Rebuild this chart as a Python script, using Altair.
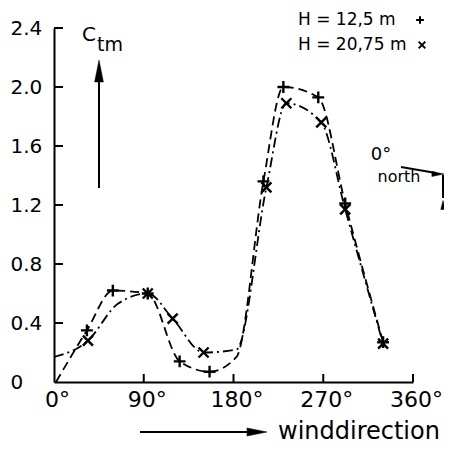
import altair as alt
import pandas as pd

# ---- data ----
deg_h1 = [2, 33, 59, 94, 126, 156, 183, 210, 230, 265, 292, 330]
val_h1 = [0.0, 0.35, 0.62, 0.60, 0.14, 0.07, 0.17, 1.36, 2.00, 1.93, 1.21, 0.27]
mrk_h1 = [False, True, True, True, True, True, False, True, True, True, True, True]

deg_h2 = [0, 34, 64, 94, 119, 150, 183, 213, 233, 268, 292, 330]
val_h2 = [0.17, 0.28, 0.53, 0.60, 0.43, 0.20, 0.22, 1.32, 1.89, 1.76, 1.17, 0.26]
mrk_h2 = [False, True, False, True, True, True, False, True, True, True, True, True]

x_ticks = [0, 90, 180, 270, 360]
y_ticks = [0, 0.4, 0.8, 1.2, 1.6, 2.0, 2.4]
legend_labels = ["H = 12,5 m", "H = 20,75 m"]

df1 = pd.DataFrame({"deg": deg_h1, "val": val_h1, "m": mrk_h1})
df2 = pd.DataFrame({"deg": deg_h2, "val": val_h2, "m": mrk_h2})

FONT = "DejaVu Sans"
W, H = 359, 354

xs = alt.Scale(domain=[0, 360], nice=False, zero=False)
ys = alt.Scale(domain=[0, 2.4], nice=False)

xaxis = alt.Axis(values=x_ticks, labelExpr="datum.value + '°'", ticks=False, grid=False,
                 domain=True, domainColor="black", domainWidth=2, labelFont=FONT, labelFontSize=22,
                 labelColor="black", labelPadding=7, labelOffset=3, labelFlush=False, title=None)
yaxis = alt.Axis(values=y_ticks,
                 labelExpr="datum.value == 0 ? '0' : format(datum.value, '.1f')",
                 ticks=False, grid=False, domain=True, domainColor="black", domainWidth=2,
                 labelFont=FONT, labelFontSize=20, labelColor="black", labelAlign="left",
                 labelPadding=44, title=None)

X = lambda f: alt.X(f, scale=xs, axis=xaxis)
Y = lambda f: alt.Y(f, scale=ys, axis=yaxis)

PLUS = "M-1,0L1,0M0,-1L0,1"
CROSS = "M-1,-1L1,1M-1,1L1,-1"

line1 = alt.Chart(df1).mark_line(interpolate="monotone", strokeDash=[9, 5], color="black",
                                 strokeWidth=1.8).encode(x=X("deg:Q"), y=Y("val:Q"))
line2 = alt.Chart(df2).mark_line(interpolate="monotone", strokeDash=[10, 4, 2, 4], color="black",
                                 strokeWidth=1.8).encode(x=X("deg:Q"), y=Y("val:Q"))

pts1 = alt.Chart(df1).transform_filter("datum.m").mark_point(
    shape=PLUS, size=140, stroke="black", strokeWidth=2.4, filled=False, opacity=1).encode(
    x=X("deg:Q"), y=Y("val:Q"))
pts2 = alt.Chart(df2).transform_filter("datum.m").mark_point(
    shape=CROSS, size=100, stroke="black", strokeWidth=2.4, filled=False, opacity=1).encode(
    x=X("deg:Q"), y=Y("val:Q"))

# inward ticks
yt = alt.Chart(pd.DataFrame({"val": y_ticks[1:]})).mark_rule(color="black", strokeWidth=2).encode(
    y=Y("val:Q"), x=alt.value(0), x2=alt.value(9))
xt = alt.Chart(pd.DataFrame({"deg": x_ticks[1:]})).mark_rule(color="black", strokeWidth=2).encode(
    x=X("deg:Q"), y=alt.value(H), y2=alt.value(H - 8))

one = pd.DataFrame({"a": [0]})

def txt(s, x, y, size, align="left"):
    return alt.Chart(one).mark_text(text=s, font=FONT, fontSize=size, align=align,
                                    baseline="middle", color="black").encode(
        x=alt.value(x), y=alt.value(y))

def rule(x1, y1, x2, y2, w=2):
    return alt.Chart(one).mark_rule(color="black", strokeWidth=w).encode(
        x=alt.value(x1), y=alt.value(y1), x2=alt.value(x2), y2=alt.value(y2))

def head(path, x, y, size):
    return alt.Chart(one).mark_point(shape=path, size=size, filled=True, fill="black",
                                     stroke="black", strokeWidth=0.5, opacity=1).encode(
        x=alt.value(x), y=alt.value(y))

deco = [
    txt("C", 28, 7, 20),
    txt("tm", 43, 17, 19),
    rule(45, 40, 45, 160),
    head("M0,-1L0.4,1L-0.4,1Z", 45, 43, 484),
    rule(86, 404, 200, 404),
    head("M1,0L-1,-0.4L-1,0.4Z", 203, 404, 400),
    txt("winddirection", 224, 404, 24),
    txt(legend_labels[0], 244, -8, 17),
    txt(legend_labels[1], 244, 17, 17),
    alt.Chart(one).mark_point(shape=PLUS, size=60, stroke="black", strokeWidth=2,
                              filled=False, opacity=1).encode(x=alt.value(366), y=alt.value(-8)),
    alt.Chart(one).mark_point(shape=CROSS, size=45, stroke="black", strokeWidth=2,
                              filled=False, opacity=1).encode(x=alt.value(368), y=alt.value(17)),
    txt("0°", 327, 127, 18, "center"),
    txt("north", 345, 149, 16, "center"),
    rule(347, 139, 382, 145),
    head("M1,0L-1,-0.4L-1,0.4Z", 384, 146, 150),
    rule(389, 147, 389, 170),
    head("M0,-1L0.5,1L-0.5,1Z", 389, 177, 80),
]

chart = alt.layer(line1, line2, pts1, pts2, yt, xt, *deco).properties(
    width=W, height=H,
    padding={"left": 46, "top": 20, "right": 31, "bottom": 62},
    autosize=alt.AutoSizeParams(type="none"),
).configure_view(stroke=None)

chart.save("out.html", embed_options={"renderer": "svg", "actions": False})
